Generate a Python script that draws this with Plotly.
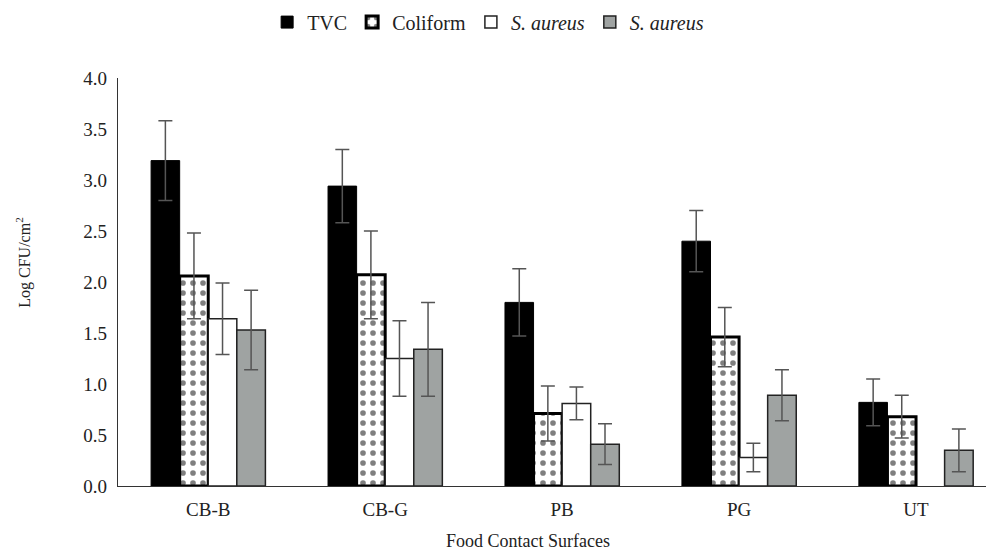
import plotly.graph_objects as go

categories = ["CB-B", "CB-G", "PB", "PG", "UT"]
tvc = [3.19, 2.94, 1.80, 2.40, 0.82]
tvc_err = [0.39, 0.36, 0.33, 0.30, 0.23]
coliform = [2.06, 2.07, 0.71, 1.46, 0.68]
coliform_err = [0.42, 0.43, 0.27, 0.29, 0.21]
saureus_white = [1.64, 1.25, 0.81, 0.28, None]
saureus_white_err = [0.35, 0.37, 0.16, 0.14, None]
saureus_gray = [1.53, 1.34, 0.41, 0.89, 0.35]
saureus_gray_err = [0.39, 0.46, 0.20, 0.25, 0.21]
y_ticks = [0.0, 0.5, 1.0, 1.5, 2.0, 2.5, 3.0, 3.5, 4.0]

FONT = "Liberation Serif, Times New Roman, serif"
err_style = dict(type="data", color="#555555", thickness=1.5, width=7)

fig = go.Figure()
fig.add_trace(go.Bar(
    name="TVC", x=categories, y=tvc,
    marker=dict(color="black", line=dict(color="black", width=1)),
    error_y=dict(array=tvc_err, **err_style)))
fig.add_trace(go.Bar(
    name="Coliform", x=categories, y=coliform,
    marker=dict(color="white", line=dict(color="black", width=3),
                pattern=dict(shape=".", fgcolor="black", bgcolor="white",
                             size=10, solidity=0.25)),
    error_y=dict(array=coliform_err, **err_style)))
fig.add_trace(go.Bar(
    name="<i>S. aureus</i>", x=categories, y=saureus_white,
    marker=dict(color="white", line=dict(color="#222222", width=1.5)),
    error_y=dict(array=saureus_white_err, **err_style)))
fig.add_trace(go.Bar(
    name="<i>S. aureus</i>", x=categories, y=saureus_gray,
    marker=dict(color="#9fa3a2", line=dict(color="#222222", width=1.5)),
    error_y=dict(array=saureus_gray_err, **err_style)))

# the page body adds an 8px offset, so the figure is shifted up/left by that amount
fig.update_layout(
    width=986, height=545,
    margin=dict(l=110, r=1, t=70, b=67, autoexpand=False),
    paper_bgcolor="white", plot_bgcolor="white",
    barmode="group", bargap=0.354, bargroupgap=0,
    font=dict(family=FONT, size=19, color="#222222"),
    showlegend=True,
    legend=dict(orientation="h", x=0.423, xanchor="center", y=1.137, yanchor="middle",
                font=dict(family=FONT, size=20, color="#222222"),
                traceorder="normal"),
    xaxis=dict(range=[-0.51, 4.435], showline=True, linecolor="#333333", linewidth=1.2,
               ticks="", showgrid=False, zeroline=False,
               tickfont=dict(family=FONT, size=19, color="#222222"),
               ticklabelstandoff=6),
    yaxis=dict(range=[0, 4], tickvals=y_ticks, ticktext=[f"{v:.1f}" for v in y_ticks],
               showline=True, linecolor="#333333", linewidth=1.2,
               ticks="", showgrid=False, zeroline=False,
               tickfont=dict(family=FONT, size=19, color="#222222"),
               ticklabelstandoff=6),
    annotations=[
        dict(text="Log CFU/cm<sup>2</sup>", xref="paper", yref="paper",
             x=-0.1075, y=0.547, xanchor="center", yanchor="middle", textangle=-90,
             showarrow=False, font=dict(family=FONT, size=16, color="#222222")),
        dict(text="Food Contact Surfaces", xref="paper", yref="paper",
             x=0.4686, y=-0.135, xanchor="center", yanchor="middle",
             showarrow=False, font=dict(family=FONT, size=18, color="#222222")),
    ],
)

fig.write_html("out.html")
